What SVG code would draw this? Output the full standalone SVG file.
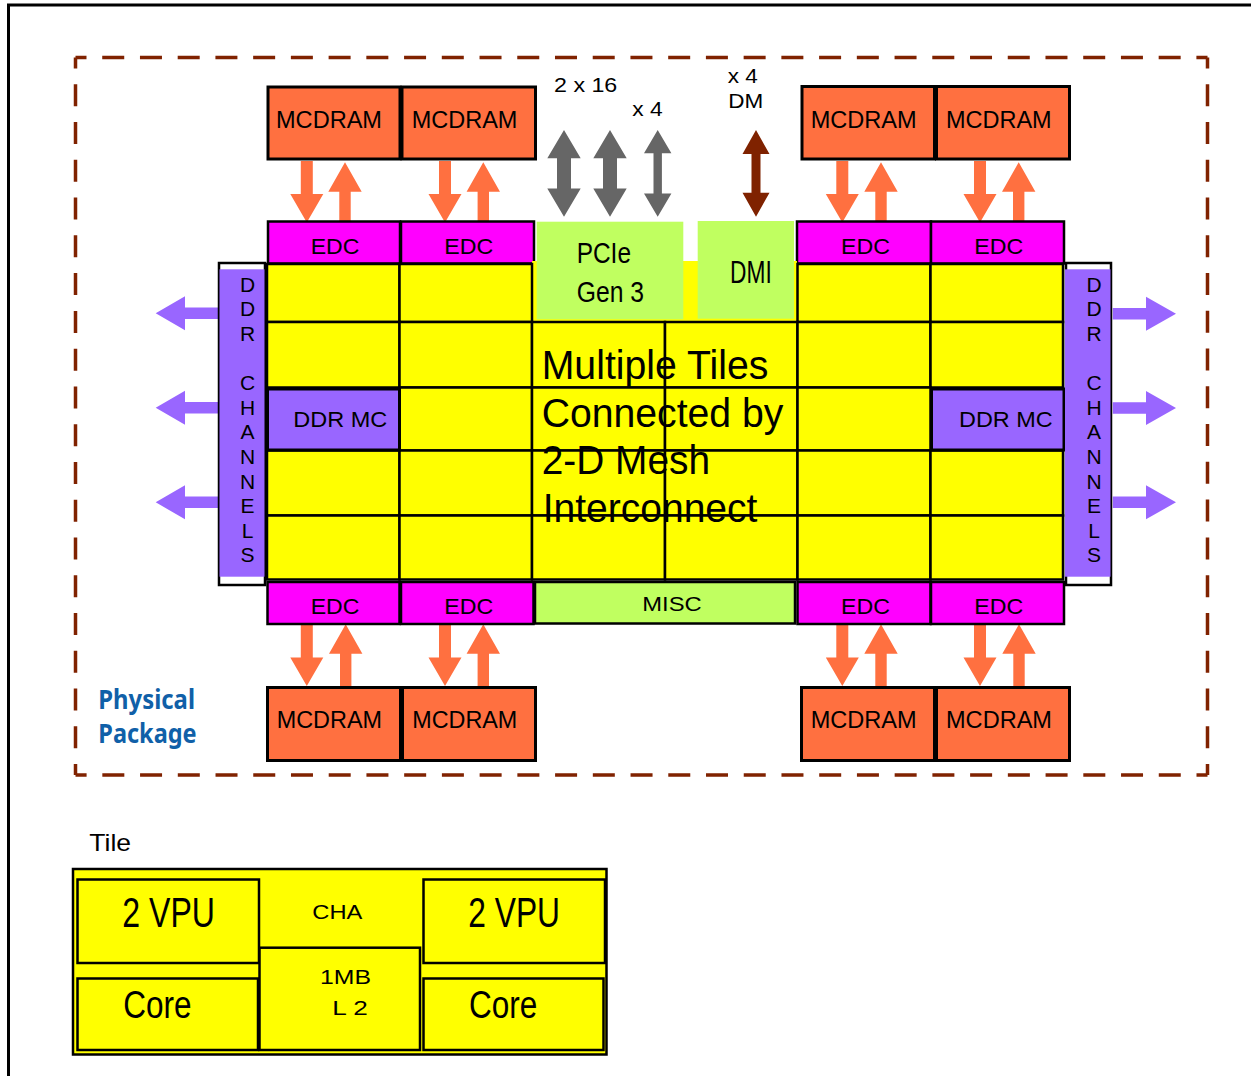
<svg xmlns="http://www.w3.org/2000/svg" width="1251" height="1076" viewBox="0 0 1251 1076">
<style>
text{font-family:"Liberation Sans",Arial,sans-serif;fill:#000}
.mc{fill:#FF7040;stroke:#000;stroke-width:3}
.edc{fill:#FF00FF;stroke:#000;stroke-width:2.5}
.cell{fill:#FFFF00;stroke:#000;stroke-width:2.5}
.ddrmc{fill:#9966FF;stroke:#000;stroke-width:3}
.grn{fill:#C0FF60}
.misc{fill:#C0FF60;stroke:#000;stroke-width:2.5}
.pur{fill:#9966FF}
.dash{fill:none;stroke:#802200;stroke-width:3.5;stroke-dashoffset:11}
.f23{font-size:23px}
.f22{font-size:22px}
.f21{font-size:21px}
.big{font-size:40px}
.pkg{font-family:"Noto Sans","Open Sans",sans-serif;font-weight:bold;font-size:26px;fill:#1060A8}
.ch{font-size:21px;text-anchor:middle}
</style>
<defs>
<path id="dn" d="M-6,0H6V33H16.5L0,61.5L-16.5,33H-6Z" fill="#FF7040"/>
<path id="up" d="M0,0L16.7,29.4H5.7V62H-5.7V29.4H-16.7Z" fill="#FF7040"/>
<path id="gbig" d="M0,0L16.7,28.3H7V58.4H16.7L0,86.7L-16.7,58.4H-7V28.3H-16.7Z" fill="#666666"/>
<path id="gsm" d="M0,0L13.7,23.3H4.2V63.4H13.7L0,86.7L-13.7,63.4H-4.2V23.3H-13.7Z" fill="#666666"/>
<path id="pl" d="M0,0L29.3,-17V-5.8H63.8V5.8H29.3V17Z" fill="#9966FF"/>
<path id="pr" d="M0,0L-30,-17V-5.8H-63.2V5.8H-30V17Z" fill="#9966FF"/>
</defs>

<rect x="8.5" y="5" width="1300" height="1200" fill="none" stroke="#000" stroke-width="3"/>

<g id="physical-package">
<path class="dash" d="M75.5,57.5H1207.5" stroke-dasharray="22 15.73"/>
<path class="dash" d="M1207.5,57.5V775" stroke-dasharray="22 15.76"/>
<path class="dash" d="M1207.5,775H75.5" stroke-dasharray="22 15.73"/>
<path class="dash" d="M75.5,775V57.5" stroke-dasharray="22 15.76"/>
<text class="pkg" x="98.3" y="709.3" textLength="96.7" lengthAdjust="spacingAndGlyphs">Physical</text>
<text class="pkg" x="98.3" y="742.7" textLength="98.3" lengthAdjust="spacingAndGlyphs">Package</text>
</g>

<g id="connectors">
<use href="#dn" x="306.8" y="161"/><use href="#up" x="345" y="162.3"/>
<use href="#dn" x="445" y="161"/><use href="#up" x="483.3" y="162.3"/>
<use href="#dn" x="842.3" y="161"/><use href="#up" x="881" y="162.3"/>
<use href="#dn" x="980" y="161"/><use href="#up" x="1018.7" y="162.3"/>
<use href="#dn" x="306.8" y="624.5"/><use href="#up" x="345.7" y="624.3"/>
<use href="#dn" x="445" y="624.5"/><use href="#up" x="483.3" y="624.3"/>
<use href="#dn" x="842.3" y="624.5"/><use href="#up" x="881" y="624.3"/>
<use href="#dn" x="980" y="624.5"/><use href="#up" x="1019" y="624.3"/>
<use href="#gbig" x="564" y="130"/>
<use href="#gbig" x="610" y="130"/>
<use href="#gsm" x="657.7" y="130"/>
<path d="M756,130L769.5,154H760.5V192.7H769.5L756,216.7L742.5,192.7H751.5V154H742.5Z" fill="#7F2200"/>
<use href="#pl" x="155.7" y="313.3"/><use href="#pl" x="155.7" y="407.7"/><use href="#pl" x="155.7" y="502.3"/>
<use href="#pr" x="1176" y="313.7"/><use href="#pr" x="1176" y="408"/><use href="#pr" x="1176" y="502.3"/>
<text class="f21" x="554" y="91.7" textLength="63.3" lengthAdjust="spacingAndGlyphs">2 x 16</text>
<text class="f21" x="632.3" y="115.7" textLength="30.4" lengthAdjust="spacingAndGlyphs">x 4</text>
<text class="f21" x="727.7" y="83.3" textLength="30" lengthAdjust="spacingAndGlyphs">x 4</text>
<text class="f21" x="728.3" y="108.3" textLength="35" lengthAdjust="spacingAndGlyphs">DM</text>
</g>

<g id="mcdram-tl1"><rect class="mc" x="268" y="87" width="132" height="72"/><text class="f23" x="276" y="128.3" textLength="106" lengthAdjust="spacingAndGlyphs">MCDRAM</text></g>
<g id="mcdram-tl2"><rect class="mc" x="402" y="87" width="133.5" height="72"/><text class="f23" x="411.7" y="127.5" textLength="105.7" lengthAdjust="spacingAndGlyphs">MCDRAM</text></g>
<g id="mcdram-tr1"><rect class="mc" x="802" y="86.5" width="132.5" height="72.5"/><text class="f23" x="810.7" y="127.5" textLength="106" lengthAdjust="spacingAndGlyphs">MCDRAM</text></g>
<g id="mcdram-tr2"><rect class="mc" x="936.5" y="86.5" width="133" height="72.5"/><text class="f23" x="946" y="127.5" textLength="105.7" lengthAdjust="spacingAndGlyphs">MCDRAM</text></g>
<g id="mcdram-bl1"><rect class="mc" x="267.5" y="687.5" width="133" height="73"/><text class="f23" x="276.7" y="728.3" textLength="105.3" lengthAdjust="spacingAndGlyphs">MCDRAM</text></g>
<g id="mcdram-bl2"><rect class="mc" x="402.5" y="687.5" width="133" height="73"/><text class="f23" x="412.3" y="728.3" textLength="105" lengthAdjust="spacingAndGlyphs">MCDRAM</text></g>
<g id="mcdram-br1"><rect class="mc" x="801.5" y="687.5" width="133" height="73"/><text class="f23" x="810.7" y="728.3" textLength="106" lengthAdjust="spacingAndGlyphs">MCDRAM</text></g>
<g id="mcdram-br2"><rect class="mc" x="936.5" y="687.5" width="133" height="73"/><text class="f23" x="946" y="728.3" textLength="106" lengthAdjust="spacingAndGlyphs">MCDRAM</text></g>

<g id="edc-tl1"><rect class="edc" x="268" y="221.5" width="132" height="42"/><text class="f22" x="310.7" y="254.3" textLength="48.7" lengthAdjust="spacingAndGlyphs">EDC</text></g>
<g id="edc-tl2"><rect class="edc" x="401" y="221.5" width="133" height="42"/><text class="f22" x="444.3" y="253.5" textLength="49" lengthAdjust="spacingAndGlyphs">EDC</text></g>
<g id="edc-tr1"><rect class="edc" x="797" y="221.5" width="134" height="42"/><text class="f22" x="841" y="253.5" textLength="49" lengthAdjust="spacingAndGlyphs">EDC</text></g>
<g id="edc-tr2"><rect class="edc" x="931" y="221.5" width="133" height="42"/><text class="f22" x="974.3" y="253.5" textLength="49" lengthAdjust="spacingAndGlyphs">EDC</text></g>
<g id="edc-bl1"><rect class="edc" x="267.5" y="582" width="132" height="42"/><text class="f22" x="310.7" y="614" textLength="48.7" lengthAdjust="spacingAndGlyphs">EDC</text></g>
<g id="edc-bl2"><rect class="edc" x="401" y="582" width="132.5" height="42"/><text class="f22" x="444.3" y="614" textLength="49" lengthAdjust="spacingAndGlyphs">EDC</text></g>
<g id="edc-br1"><rect class="edc" x="797.5" y="582" width="133" height="42"/><text class="f22" x="841" y="614" textLength="49" lengthAdjust="spacingAndGlyphs">EDC</text></g>
<g id="edc-br2"><rect class="edc" x="931" y="582" width="133" height="42"/><text class="f22" x="974.3" y="614" textLength="49" lengthAdjust="spacingAndGlyphs">EDC</text></g>
<g id="misc"><rect class="misc" x="535" y="582" width="260" height="41.5"/><text class="f21" x="642.3" y="610.7" textLength="59.4" lengthAdjust="spacingAndGlyphs">MISC</text></g>

<g id="mesh">
<rect x="532" y="261" width="265" height="61" fill="#FFFF00"/>
<rect class="cell" x="267" y="264" width="132.5" height="58"/>
<rect class="cell" x="399.5" y="264" width="132.5" height="58"/>
<rect class="cell" x="797.5" y="264" width="133" height="58"/>
<rect class="cell" x="930.5" y="264" width="132.5" height="58"/>
<rect class="cell" x="267" y="322" width="132.5" height="65.5"/>
<rect class="cell" x="399.5" y="322" width="132.5" height="65.5"/>
<rect class="cell" x="532" y="322" width="133" height="65.5"/>
<rect class="cell" x="665" y="322" width="132.5" height="65.5"/>
<rect class="cell" x="797.5" y="322" width="133" height="65.5"/>
<rect class="cell" x="930.5" y="322" width="132.5" height="65.5"/>
<rect class="cell" x="399.5" y="387.5" width="132.5" height="63"/>
<rect class="cell" x="532" y="387.5" width="133" height="63"/>
<rect class="cell" x="665" y="387.5" width="132.5" height="63"/>
<rect class="cell" x="797.5" y="387.5" width="133" height="63"/>
<rect class="cell" x="267" y="450.5" width="132.5" height="65"/>
<rect class="cell" x="399.5" y="450.5" width="132.5" height="65"/>
<rect class="cell" x="532" y="450.5" width="133" height="65"/>
<rect class="cell" x="665" y="450.5" width="132.5" height="65"/>
<rect class="cell" x="797.5" y="450.5" width="133" height="65"/>
<rect class="cell" x="930.5" y="450.5" width="132.5" height="65"/>
<rect class="cell" x="267" y="515.5" width="132.5" height="64"/>
<rect class="cell" x="399.5" y="515.5" width="132.5" height="64"/>
<rect class="cell" x="532" y="515.5" width="133" height="64"/>
<rect class="cell" x="665" y="515.5" width="132.5" height="64"/>
<rect class="cell" x="797.5" y="515.5" width="133" height="64"/>
<rect class="cell" x="930.5" y="515.5" width="132.5" height="64"/>
</g>

<g id="ddr-mc-left"><rect class="ddrmc" x="267.5" y="389" width="132" height="61"/><text class="f22" x="293.3" y="426.7" textLength="94" lengthAdjust="spacingAndGlyphs">DDR MC</text></g>
<g id="ddr-mc-right"><rect class="ddrmc" x="931.5" y="389" width="132.5" height="61"/><text class="f22" x="959" y="426.7" textLength="93.7" lengthAdjust="spacingAndGlyphs">DDR MC</text></g>

<g id="pcie"><rect class="grn" x="536.7" y="221.7" width="146.6" height="97.6"/>
<text style="font-size:30px" x="576.7" y="263.3" textLength="54.3" lengthAdjust="spacingAndGlyphs">PCIe</text>
<text style="font-size:30px" x="576.7" y="301.7" textLength="67.3" lengthAdjust="spacingAndGlyphs">Gen 3</text></g>
<g id="dmi"><rect class="grn" x="697.7" y="221" width="96.3" height="97.7"/>
<text style="font-size:31px" x="730" y="283.3" textLength="41.7" lengthAdjust="spacingAndGlyphs">DMI</text></g>

<g id="mesh-label">
<text class="big" x="541.7" y="379.3" textLength="226.7" lengthAdjust="spacingAndGlyphs">Multiple Tiles</text>
<text class="big" x="541.7" y="426.7" textLength="241.7" lengthAdjust="spacingAndGlyphs">Connected by</text>
<text class="big" x="541.7" y="474" textLength="168.3" lengthAdjust="spacingAndGlyphs">2-D Mesh</text>
<text class="big" x="542.7" y="521.7" textLength="214.7" lengthAdjust="spacingAndGlyphs">Interconnect</text>
</g>

<g id="ddr-channels-left">
<rect x="219" y="263" width="46" height="322" fill="#fff" stroke="#000" stroke-width="2.5"/>
<rect class="pur" x="219.5" y="269.3" width="45" height="307.4"/>
<text class="ch"><tspan x="247.5" y="291.7">D</tspan><tspan x="247.5" y="316.3">D</tspan><tspan x="247.5" y="340.9">R</tspan><tspan x="247.5" y="390.1">C</tspan><tspan x="247.5" y="414.7">H</tspan><tspan x="247.5" y="439.3">A</tspan><tspan x="247.5" y="463.9">N</tspan><tspan x="247.5" y="488.5">N</tspan><tspan x="247.5" y="513.1">E</tspan><tspan x="247.5" y="537.7">L</tspan><tspan x="247.5" y="562.3">S</tspan></text>
</g>
<g id="ddr-channels-right">
<rect x="1066" y="263" width="45" height="322" fill="#fff" stroke="#000" stroke-width="2.5"/>
<rect class="pur" x="1065" y="269.3" width="45.5" height="307.4"/>
<text class="ch"><tspan x="1094" y="291.7">D</tspan><tspan x="1094" y="316.3">D</tspan><tspan x="1094" y="340.9">R</tspan><tspan x="1094" y="390.1">C</tspan><tspan x="1094" y="414.7">H</tspan><tspan x="1094" y="439.3">A</tspan><tspan x="1094" y="463.9">N</tspan><tspan x="1094" y="488.5">N</tspan><tspan x="1094" y="513.1">E</tspan><tspan x="1094" y="537.7">L</tspan><tspan x="1094" y="562.3">S</tspan></text>
</g>

<g id="tile">
<text style="font-size:24px" x="89.3" y="850.7" textLength="41.7" lengthAdjust="spacingAndGlyphs">Tile</text>
<rect x="73" y="869" width="533.5" height="185.5" fill="#FFFF00" stroke="#000" stroke-width="2.5"/>
<g id="vpu-left"><rect x="77.5" y="879.5" width="181.5" height="83.5" fill="#FFFF00" stroke="#000" stroke-width="2.5"/>
<text style="font-size:42px" x="122.3" y="926.7" textLength="92.7" lengthAdjust="spacingAndGlyphs">2 VPU</text></g>
<g id="core-left"><rect x="77.5" y="978.5" width="180.5" height="71.5" fill="#FFFF00" stroke="#000" stroke-width="2.5"/>
<text style="font-size:38px" x="123.3" y="1018.3" textLength="68.3" lengthAdjust="spacingAndGlyphs">Core</text></g>
<g id="cha"><text class="f21" x="312.3" y="919" textLength="50" lengthAdjust="spacingAndGlyphs">CHA</text></g>
<g id="l2"><rect x="259.5" y="947.7" width="160.5" height="102.3" fill="#FFFF00" stroke="#000" stroke-width="2.5"/>
<text class="f21" x="320" y="984.3" textLength="51" lengthAdjust="spacingAndGlyphs">1MB</text>
<text class="f21" x="332.3" y="1015" textLength="35.4" lengthAdjust="spacingAndGlyphs">L 2</text></g>
<g id="vpu-right"><rect x="423.5" y="879.5" width="181.5" height="83.5" fill="#FFFF00" stroke="#000" stroke-width="2.5"/>
<text style="font-size:42px" x="468.3" y="926.7" textLength="91.7" lengthAdjust="spacingAndGlyphs">2 VPU</text></g>
<g id="core-right"><rect x="423.5" y="978.5" width="180" height="71.5" fill="#FFFF00" stroke="#000" stroke-width="2.5"/>
<text style="font-size:38px" x="469" y="1018.3" textLength="68.3" lengthAdjust="spacingAndGlyphs">Core</text></g>
</g>
</svg>
